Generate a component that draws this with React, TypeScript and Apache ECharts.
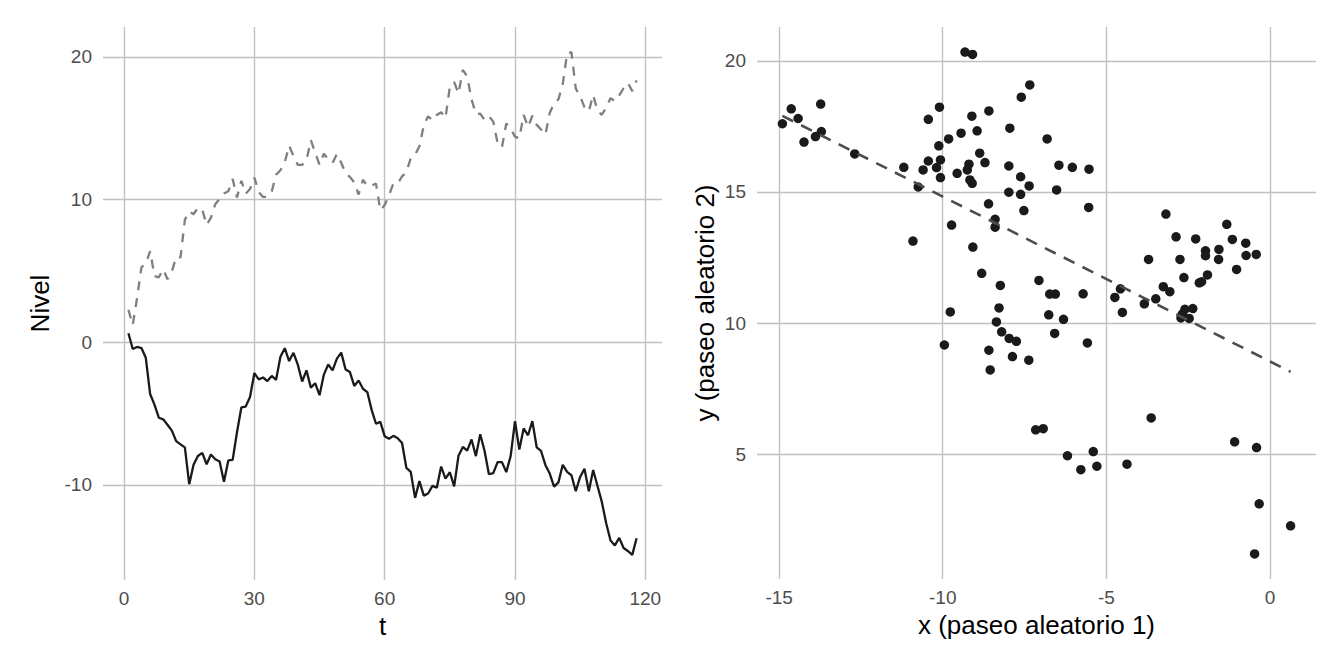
import React, { useEffect, useRef } from "react";
import * as echarts from "echarts";

// Paseo aleatorio 1 (solid line, x of the scatter), t = 1..118
const walk1 = [
  0.63, -0.47, -0.33, -0.41, -1.08, -3.63, -4.37, -5.29, -5.4, -5.78,
  -6.19, -6.93, -7.16, -7.37, -9.95, -8.59, -7.97, -7.75, -8.55, -7.87,
  -8.2, -8.36, -9.77, -8.28, -8.24, -6.31, -4.57, -4.51, -3.84, -2.16,
  -2.6, -2.47, -2.72, -2.36, -2.63, -1.02, -0.42, -1.32, -0.74, -1.57,
  -2.75, -1.97, -3.18, -2.87, -3.71, -2.27, -1.56, -1.97, -1.15, -0.73,
  -1.91, -2.09, -3.06, -2.68, -3.26, -3.49, -4.74, -5.71, -5.58, -6.58,
  -6.76, -6.56, -6.73, -7.06, -8.81, -9.08, -10.91, -9.73, -10.75, -10.6,
  -10.07, -10.19, -8.71, -9.56, -9.11, -10.1, -7.95, -7.34, -7.6, -6.81,
  -7.98, -6.45, -7.62, -9.25, -9.17, -8.4, -8.4, -9.1, -7.98, -5.54,
  -7.52, -6.04, -6.52, -5.53, -7.36, -7.62, -8.6, -9.2, -10.12, -9.82,
  -8.59, -9.09, -9.32, -10.44, -9.44, -8.87, -10.44, -8.95, -10.07, -11.19,
  -12.69, -13.89, -14.24, -13.71, -14.42, -14.63, -14.9, -13.73,
];

// Paseo aleatorio 2 (dashed line, y of the scatter), t = 1..118
const walk2 = [
  2.28, 1.21, 3.12, 5.26, 5.48, 6.39, 4.63, 4.55, 5.11, 4.42,
  4.95, 5.98, 5.94, 8.59, 9.17, 8.97, 9.42, 9.31, 8.22, 8.73,
  9.67, 10.05, 10.43, 10.58, 11.44, 10.15, 11.31, 10.41, 10.74, 11.54,
  10.53, 10.18, 10.2, 10.56, 11.74, 12.05, 12.62, 13.77, 13.05, 12.43,
  12.43, 12.76, 14.16, 13.29, 12.43, 13.21, 12.81, 12.57, 13.19, 12.58,
  11.84, 11.58, 11.2, 10.35, 11.39, 10.93, 10.98, 11.12, 9.25, 9.61,
  10.32, 11.11, 11.11, 11.63, 11.9, 12.9, 13.13, 13.74, 15.19, 15.84,
  15.55, 15.93, 16.12, 15.71, 17.89, 18.23, 17.43, 19.08, 18.61, 17.02,
  15.99, 16.02, 15.58, 15.84, 15.46, 13.96, 13.66, 15.33, 14.99, 14.41,
  14.29, 15.94, 15.08, 15.87, 15.23, 14.91, 14.55, 16.06, 16.76, 17.02,
  18.09, 20.24, 20.33, 17.77, 17.24, 16.48, 16.18, 17.33, 16.22, 15.94,
  16.45, 17.11, 16.9, 17.3, 17.8, 18.17, 17.6, 18.35,
];

const leftXTicks = [0, 30, 60, 90, 120];
const leftYTicks = [-10, 0, 10, 20];
const rightXTicks = [-15, -10, -5, 0];
const rightYTicks = [5, 10, 15, 20];

const leftXTitle = "t";
const leftYTitle = "Nivel";
const rightXTitle = "x (paseo aleatorio 1)";
const rightYTitle = "y (paseo aleatorio 2)";

const FONT = "'Liberation Sans', Arial, Helvetica, sans-serif";

function expand(values: number[]) {
  const lo = Math.min(...values);
  const hi = Math.max(...values);
  const pad = (hi - lo) * 0.05;
  return [lo - pad, hi + pad];
}

function axis(
  gridIndex: number,
  ticks: number[],
  name: string,
  gap: number,
  margin: number,
  range: number[]
) {
  return {
    type: "value" as const,
    gridIndex,
    min: range[0],
    max: range[1],
    name,
    nameLocation: "middle" as const,
    nameGap: gap,
    nameTextStyle: { fontSize: 26, color: "#000", fontFamily: FONT },
    axisLine: { show: false },
    axisTick: { show: false, customValues: ticks },
    axisLabel: {
      customValues: ticks,
      fontSize: 19,
      color: "#4d4d4d",
      margin,
      fontFamily: FONT,
    },
    splitLine: { show: true, lineStyle: { color: "#c0c0c0", width: 1.4 } },
  };
}

export default function App() {
  const ref = useRef<HTMLDivElement>(null);

  useEffect(() => {
    const chart = echarts.init(ref.current!, null, { renderer: "svg" });

    const tVals = walk1.map((_, i) => i + 1);
    const line1 = walk1.map((v, i) => [tVals[i], v]);
    const line2 = walk2.map((v, i) => [tVals[i], v]);
    const points = walk1.map((x, i) => [x, walk2[i]]);

    // least squares fit (geom_smooth method = "lm")
    const n = walk1.length;
    const mx = walk1.reduce((a, b) => a + b, 0) / n;
    const my = walk2.reduce((a, b) => a + b, 0) / n;
    let sxy = 0;
    let sxx = 0;
    for (let i = 0; i < n; i++) {
      sxy += (walk1[i] - mx) * (walk2[i] - my);
      sxx += (walk1[i] - mx) * (walk1[i] - mx);
    }
    const slope = sxy / sxx;
    const icpt = my - slope * mx;
    const xLo = Math.min(...walk1);
    const xHi = Math.max(...walk1);
    const fit = [
      [xLo, icpt + slope * xLo],
      [xHi, icpt + slope * xHi],
    ];

    const leftY = expand([...walk1, ...walk2]);

    chart.setOption({
      animation: false,
      backgroundColor: "#ffffff",
      grid: [
        { left: 103, top: 27, width: 559, height: 553 },
        { left: 757, top: 27, width: 559, height: 552 },
      ],
      xAxis: [
        axis(0, leftXTicks, leftXTitle, 31, 9, expand(tVals)),
        axis(1, rightXTicks, rightXTitle, 31, 9, expand(walk1)),
      ],
      yAxis: [
        axis(0, leftYTicks, leftYTitle, 50, 11, leftY),
        axis(1, rightYTicks, rightYTitle, 39, 11, expand(walk2)),
      ],
      series: [
        {
          type: "line",
          xAxisIndex: 0,
          yAxisIndex: 0,
          data: line2,
          showSymbol: false,
          lineStyle: { color: "#7f7f7f", width: 2.3, type: [9, 8] },
        },
        {
          type: "line",
          xAxisIndex: 0,
          yAxisIndex: 0,
          data: line1,
          showSymbol: false,
          lineStyle: { color: "#1a1a1a", width: 2.3 },
        },
        {
          type: "scatter",
          xAxisIndex: 1,
          yAxisIndex: 1,
          data: points,
          symbolSize: 9.5,
          itemStyle: { color: "#1a1a1a", opacity: 1 },
        },
        {
          type: "line",
          xAxisIndex: 1,
          yAxisIndex: 1,
          data: fit,
          showSymbol: false,
          z: 5,
          lineStyle: { color: "#4d4d4d", width: 2.6, type: [12, 9] },
        },
      ],
    });

    return () => chart.dispose();
  }, []);

  return (
    <div
      ref={ref}
      style={{
        position: "fixed",
        left: 0,
        top: 0,
        width: 1344,
        height: 672,
        background: "#fff",
      }}
    />
  );
}
